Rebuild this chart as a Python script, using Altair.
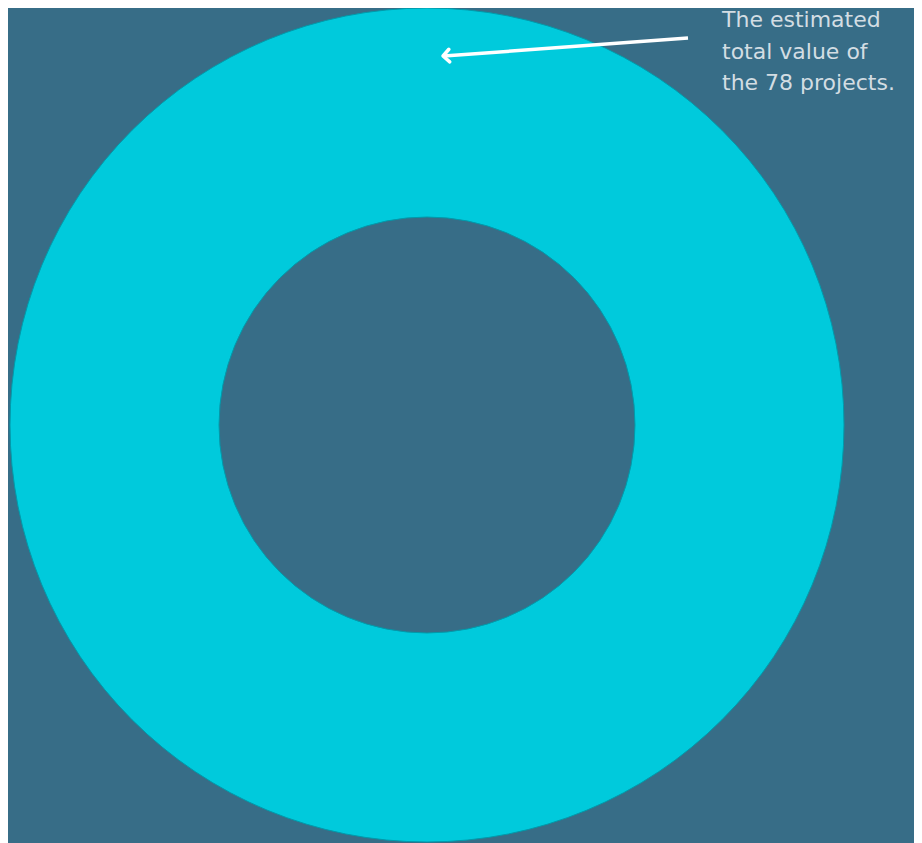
import altair as alt
import pandas as pd

categories = ["Total value of the 78 projects"]
values = [100]
annotation = ["The estimated", "total value of", "the 78 projects."]

BG = "#376d87"
TEAL = "#00cadc"

df = pd.DataFrame({"category": categories, "value": values})

donut = alt.Chart(df).mark_arc(
    radius=417, radius2=208, stroke="#009aab", strokeWidth=1
).encode(
    theta=alt.Theta("value:Q", stack=True),
    color=alt.Color("category:N", scale=alt.Scale(range=[TEAL]), legend=None),
    x=alt.value(419),
    y=alt.value(417),
)

ann_df = pd.DataFrame({"text": [annotation]})

label = alt.Chart(ann_df).mark_text(
    align="left", baseline="alphabetic", font="DejaVu Sans", fontSize=22, fontWeight=400,
    color="#d3dde3", lineHeight=31.5
).encode(text="text:N", x=alt.value(714), y=alt.value(19))

arrow_line = alt.Chart(ann_df).mark_rule(color="white", strokeWidth=3.5).encode(
    x=alt.value(680), x2=alt.value(436), y=alt.value(30), y2=alt.value(48)
)

arrow_head = alt.Chart(ann_df).mark_point(
    shape="M 1 -1 L 0 0 L 1 1", filled=False, stroke="white", strokeWidth=3.5,
    size=160, angle=356, opacity=1, strokeCap="round", strokeJoin="round"
).encode(x=alt.value(435), y=alt.value(48))

chart = alt.layer(donut, arrow_line, arrow_head, label).properties(
    width=906, height=835, background=BG, padding=0, autosize="none"
).configure_view(stroke=None)

chart.save("out.html", embed_options={"renderer": "svg", "actions": False})
